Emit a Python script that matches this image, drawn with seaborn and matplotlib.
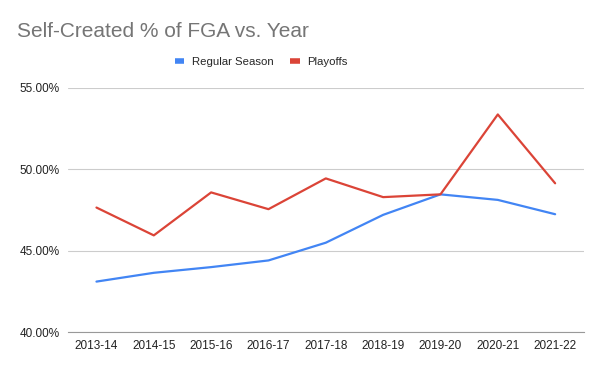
import pandas as pd
import seaborn as sns
import matplotlib.pyplot as plt
from matplotlib.ticker import FuncFormatter

# data
seasons = ['2013-14', '2014-15', '2015-16', '2016-17', '2017-18',
           '2018-19', '2019-20', '2020-21', '2021-22']
regular_season = [43.10, 43.64, 43.99, 44.40, 45.49, 47.20, 48.46, 48.12, 47.24]
playoffs = [47.65, 45.94, 48.58, 47.55, 49.44, 48.29, 48.46, 53.37, 49.14]

sns.set_theme(style='white')
plt.rcParams['font.family'] = ['Liberation Sans', 'DejaVu Sans']

df = pd.DataFrame({
    'season': seasons * 2,
    'pct': regular_season + playoffs,
    'series': ['Regular Season'] * len(seasons) + ['Playoffs'] * len(seasons),
})
palette = {'Regular Season': '#4285F4', 'Playoffs': '#DB4437'}

fig = plt.figure(figsize=(6, 3.71), dpi=100)
ax = fig.add_axes([0.113, 0.105, 0.86, 0.658])

sns.lineplot(data=df, x='season', y='pct', hue='series', palette=palette,
             linewidth=1.6, sort=False, ax=ax)

ax.set_ylim(40, 55)
ax.set_yticks([40, 45, 50, 55])
ax.yaxis.set_major_formatter(FuncFormatter(lambda v, _: f'{v:.2f}%'))
ax.set_xlim(-0.5, len(seasons) - 0.5)
ax.grid(axis='y', color='#cccccc', linewidth=0.8)
ax.set_axisbelow(True)
for s in ['top', 'right', 'left']:
    ax.spines[s].set_visible(False)
ax.spines['bottom'].set_color('#999999')
ax.spines['bottom'].set_linewidth(0.8)
ax.tick_params(axis='both', length=0, labelsize=8.5, labelcolor='#222222', pad=6)
ax.set_xlabel('')
ax.set_ylabel('')

leg = ax.legend(loc='lower center', bbox_to_anchor=(0.375, 1.045), ncol=2,
                frameon=False, fontsize=8.2, handlelength=0.8, columnspacing=1.5,
                handletextpad=0.7)
for line in leg.get_lines():
    line.set_linewidth(4)
    line.set_solid_capstyle('butt')

fig.text(0.028, 0.915, 'Self-Created % of FGA vs. Year', fontsize=15,
         color='#757575', va='center')

fig.savefig('out.png', dpi=100)
